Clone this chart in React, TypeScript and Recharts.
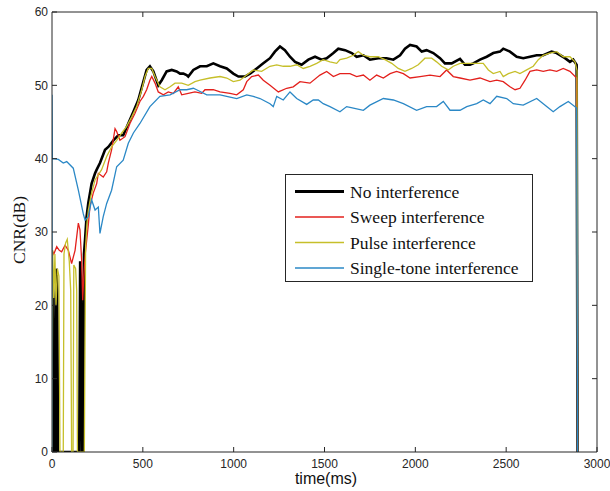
import React from 'react';
import { LineChart, Line, XAxis, YAxis } from 'recharts';

type Pt = [number, number];

// [time ms, CNR dB]
const noInterference: Pt[] = [
  [0, 0], [3, 23.5], [8, 21], [12, 0], [20, 0], [24, 25], [29, 22], [33, 0], [150, 0], [155, 26], [160, 23],
  [165, 0], [172, 0], [176, 27], [182, 29], [190, 32], [200, 34], [209, 35.3], [218, 36.6], [237, 38],
  [246, 38.5], [264, 39.4], [292, 41.2], [310, 41.6], [338, 42.5], [365, 43.2], [392, 43.2], [420, 44.8],
  [448, 46.4], [475, 48], [503, 50.5], [521, 52.1], [539, 52.6], [558, 51.9], [585, 50], [604, 50.7],
  [631, 51.9], [659, 52.1], [686, 51.9], [705, 51.6], [723, 51.6], [741, 51.4], [750, 51.2], [778, 52.1],
  [815, 52.6], [852, 52.6], [888, 53], [925, 52.6], [962, 52.3], [998, 51.6], [1026, 51.2], [1062, 51.2],
  [1090, 51.6], [1127, 52.3], [1163, 53], [1200, 53.7], [1227, 54.6], [1255, 55.3], [1282, 54.8],
  [1310, 53.9], [1338, 53.2], [1374, 52.8], [1411, 53.5], [1448, 53.9], [1484, 53.5], [1512, 53.7],
  [1549, 54.4], [1576, 55], [1613, 54.8], [1650, 54.4], [1677, 53.9], [1714, 54.1], [1750, 53.5],
  [1796, 53.7], [1842, 53.7], [1879, 53.5], [1916, 54.1], [1943, 55], [1971, 55.5], [2007, 55.3],
  [2035, 54.6], [2062, 54.8], [2099, 54.4], [2136, 53.7], [2163, 53], [2200, 53], [2246, 53.6],
  [2273, 52.8], [2301, 52.8], [2319, 53], [2356, 53.5], [2393, 53.9], [2429, 54.4], [2466, 54.6],
  [2484, 55], [2521, 54.6], [2558, 53.9], [2594, 53.7], [2631, 53.9], [2668, 54.1], [2704, 54.1],
  [2750, 54.6], [2778, 54.4], [2824, 53.7], [2851, 53.2], [2869, 53.5], [2888, 52.8], [2893, 0],
];

const sweepInterference: Pt[] = [
  [0, 0], [1, 27.5], [10, 27], [26, 28], [40, 27.5], [53, 27.3], [72, 28.2], [90, 27.5], [108, 25.7],
  [127, 27.5], [145, 31.2], [154, 30.3], [163, 26.2], [169, 20.7], [175, 24], [183, 27], [191, 28.9],
  [200, 31], [209, 33.5], [227, 35.3], [246, 36.6], [255, 38], [282, 37.5], [301, 38.2], [310, 39.4],
  [328, 41.2], [347, 44.1], [356, 43.7], [374, 42.5], [402, 43], [429, 44.8], [457, 46.2], [484, 47.8],
  [503, 48.5], [521, 49.4], [539, 50.7], [549, 51.2], [567, 50.3], [585, 49.1], [613, 48.7], [640, 49.1],
  [668, 48.9], [695, 49.8], [714, 48.7], [750, 48.9], [787, 49.1], [824, 48.9], [842, 49.4], [888, 49.4],
  [925, 49.1], [980, 48.9], [1017, 48.7], [1053, 49.4], [1072, 50.5], [1099, 51.2], [1136, 51.4],
  [1163, 50.7], [1200, 50], [1246, 49.1], [1292, 49.6], [1328, 49.8], [1365, 50.5], [1420, 50.3],
  [1475, 51.4], [1512, 51.9], [1549, 51.2], [1585, 51.6], [1640, 51.6], [1677, 51.2], [1714, 51.4],
  [1750, 50.7], [1787, 51.4], [1824, 51], [1861, 51.6], [1897, 51.9], [1934, 51.6], [1971, 51],
  [2026, 51.2], [2081, 51.4], [2136, 51.2], [2172, 52.1], [2209, 51.2], [2246, 51], [2301, 50.7],
  [2356, 51], [2411, 50.5], [2448, 50.7], [2484, 50.5], [2521, 49.8], [2549, 49.4], [2576, 49.6],
  [2604, 50.7], [2631, 51.9], [2668, 52.1], [2704, 51.9], [2741, 52.1], [2778, 51.9], [2814, 52.3],
  [2851, 51.9], [2888, 51], [2893, 0],
];

const pulseInterference: Pt[] = [
  [0, 0], [4, 27.5], [10, 21], [16, 27], [22, 20], [30, 25], [38, 24], [44, 0], [62, 0], [66, 27],
  [75, 28.5], [84, 29], [95, 26], [103, 22], [108, 0], [116, 0], [120, 25.5], [130, 25], [136, 22],
  [140, 0], [178, 0], [185, 28], [192, 31], [200, 33], [215, 35], [237, 37.1], [273, 38.5], [301, 40.3],
  [328, 41.6], [356, 42.5], [384, 43.5], [411, 44.4], [439, 45.7], [466, 47.1], [494, 49.4], [512, 51.2],
  [530, 52.3], [549, 52.3], [567, 51.2], [594, 49.8], [622, 49.4], [650, 49.8], [677, 50.3], [714, 50.3],
  [750, 50], [787, 50.5], [815, 50.7], [870, 51], [925, 51.2], [962, 51], [998, 50.5], [1035, 50.7],
  [1072, 51.4], [1108, 52.1], [1154, 51.9], [1200, 52.6], [1237, 52.8], [1273, 52.6], [1310, 52.6],
  [1347, 52.8], [1383, 52.3], [1420, 52.6], [1457, 53], [1493, 53.5], [1530, 53.2], [1567, 53],
  [1585, 53.5], [1622, 53.7], [1659, 54.1], [1686, 54.6], [1714, 54.1], [1750, 53.9], [1796, 53.9],
  [1833, 53.5], [1870, 53], [1906, 52.3], [1943, 51.9], [1980, 52.3], [2016, 52.8], [2053, 53.7],
  [2090, 53.7], [2117, 53.2], [2145, 52.6], [2181, 52.1], [2209, 52.6], [2246, 53], [2292, 53],
  [2338, 53], [2374, 53], [2402, 52.1], [2429, 51.6], [2466, 51.9], [2484, 51.2], [2512, 51.6],
  [2549, 51.9], [2576, 51.6], [2613, 52.1], [2649, 52.6], [2677, 53.5], [2704, 54.1], [2741, 54.4],
  [2778, 54.6], [2814, 53.9], [2851, 53.9], [2879, 53.2], [2890, 52], [2893, 0],
];

const singleToneInterference: Pt[] = [
  [0, 0], [0, 48.7], [2, 40], [35, 39.9], [62, 39.4], [81, 39.6], [117, 38.7], [145, 35.7], [172, 32.5],
  [182, 31.6], [200, 32.1], [218, 34.4], [237, 33], [255, 33.4], [264, 29.8], [282, 32.1], [301, 33.9],
  [328, 35.7], [356, 38.9], [392, 39.8], [420, 42.1], [448, 43.5], [484, 44.8], [539, 47.1], [594, 48.5],
  [650, 48.7], [705, 49.4], [741, 49.4], [778, 49.6], [796, 49.4], [852, 48.7], [888, 48.7], [925, 48.7],
  [980, 48.4], [1017, 48.2], [1072, 48.7], [1108, 48.5], [1145, 48.2], [1200, 47.5], [1218, 47.1],
  [1237, 48.5], [1273, 48], [1310, 49.1], [1347, 48.2], [1402, 47.4], [1438, 48], [1466, 48], [1493, 47.5],
  [1530, 47.1], [1585, 46.4], [1622, 47.1], [1659, 46.9], [1714, 46.6], [1750, 47.3], [1824, 48.2],
  [1879, 48], [1934, 47.5], [2007, 46.6], [2062, 47.1], [2117, 47.1], [2154, 47.8], [2191, 46.6],
  [2246, 46.6], [2283, 47.1], [2338, 47.5], [2374, 48], [2411, 47.5], [2448, 48.5], [2503, 48.2],
  [2539, 47.5], [2594, 47.3], [2668, 48.2], [2723, 47.1], [2759, 46.4], [2796, 47.1], [2842, 47.8],
  [2888, 46.9], [2893, 0],
];

const xTicks = [0, 500, 1000, 1500, 2000, 2500, 3000];
const yTicks = [0, 10, 20, 30, 40, 50, 60];

const series = [
  { key: 'none', name: 'No interference', points: noInterference, color: '#000000', width: 2.6 },
  { key: 'sweep', name: 'Sweep interference', points: sweepInterference, color: '#e3201c', width: 1.3 },
  { key: 'pulse', name: 'Pulse interference', points: pulseInterference, color: '#c6bf2a', width: 1.3 },
  { key: 'tone', name: 'Single-tone interference', points: singleToneInterference, color: '#2b88c6', width: 1.3 },
];

// one table for the chart: every sample is its own row, lines skip the gaps
const rows: Record<string, number>[] = series
  .flatMap((s) => s.points.map(([t, v]) => ({ t, [s.key]: v })))
  .sort((a, b) => a.t - b.t);

const AXIS = '#262626';
const SANS = '"Liberation Sans", Arial, sans-serif';
const SERIF = '"Liberation Serif", "Times New Roman", serif';

// plot box geometry (matches the chart margins / axis sizes below)
const W = 610;
const H = 491;
const LEFT = 52;
const TOP = 12;
const RIGHT = 597;
const BOTTOM = 452;
const X_MAX = 3000;
const Y_MAX = 60;

// top and right edges of the MATLAB-style box, with inward ticks
const BoxFrame = () => (
  <svg width={W} height={H} style={{ position: 'absolute', left: 0, top: 0, pointerEvents: 'none' }}>
    <line x1={LEFT} x2={RIGHT} y1={TOP} y2={TOP} stroke={AXIS} strokeWidth={1} />
    <line x1={RIGHT} x2={RIGHT} y1={TOP} y2={BOTTOM} stroke={AXIS} strokeWidth={1} />
    {xTicks.slice(1, -1).map((t) => {
      const x = LEFT + (t / X_MAX) * (RIGHT - LEFT);
      return <line key={`t${t}`} x1={x} x2={x} y1={TOP} y2={TOP + 5} stroke={AXIS} strokeWidth={1} />;
    })}
    {yTicks.slice(1, -1).map((v) => {
      const y = BOTTOM - (v / Y_MAX) * (BOTTOM - TOP);
      return <line key={`r${v}`} x1={RIGHT - 5} x2={RIGHT} y1={y} y2={y} stroke={AXIS} strokeWidth={1} />;
    })}
  </svg>
);

const LegendBox = () => (
  <svg width={249} height={109} style={{ display: 'block' }}>
    <rect x={0.5} y={0.5} width={247} height={107} fill="#fff" stroke={AXIS} strokeWidth={1} />
    {series.map((s, i) => {
      const y = 17.5 + i * 25.5;
      return (
        <g key={s.name}>
          <line x1={10} x2={59} y1={y} y2={y} stroke={s.color} strokeWidth={s.width + 0.3} />
          <text x={65} y={y} dominantBaseline="central" fontFamily={SERIF} fontSize={17.5} fill="#111">
            {s.name}
          </text>
        </g>
      );
    })}
  </svg>
);

export default function App() {
  const tickStyle = { fontFamily: SANS, fontSize: 12, fill: AXIS };
  return (
    <div style={{ position: 'absolute', left: 0, top: 0, width: W, height: H, background: '#fff' }}>
      <LineChart
        width={W}
        height={H}
        data={rows}
        margin={{ top: TOP, right: W - RIGHT, bottom: 0, left: 0 }}
      >
        <XAxis
          dataKey="t"
          type="number"
          domain={[0, X_MAX]}
          ticks={xTicks}
          allowDataOverflow
          height={H - BOTTOM}
          tickSize={-5}
          tickMargin={12}
          stroke={AXIS}
          tick={tickStyle}
          label={() => (
            <text x={326} y={478} textAnchor="middle" dominantBaseline="central" fontFamily={SANS} fontSize={16} fill="#111">
              time(ms)
            </text>
          )}
        />
        <YAxis
          type="number"
          domain={[0, Y_MAX]}
          ticks={yTicks}
          allowDataOverflow
          width={LEFT}
          tickSize={-5}
          tickMargin={9}
          stroke={AXIS}
          tick={tickStyle}
          label={() => (
            <text
              x={19}
              y={230}
              transform="rotate(-90 19 230)"
              textAnchor="middle"
              dominantBaseline="central"
              fontFamily={SERIF}
              fontSize={17.5}
              fill="#111"
            >
              CNR(dB)
            </text>
          )}
        />
        {series.map((s) => (
          <Line
            key={s.key}
            name={s.name}
            dataKey={s.key}
            type="linear"
            connectNulls
            stroke={s.color}
            strokeWidth={s.width}
            dot={false}
            activeDot={false}
            isAnimationActive={false}
          />
        ))}
      </LineChart>
      <BoxFrame />
      <div style={{ position: 'absolute', left: 285, top: 174 }}>
        <LegendBox />
      </div>
    </div>
  );
}
